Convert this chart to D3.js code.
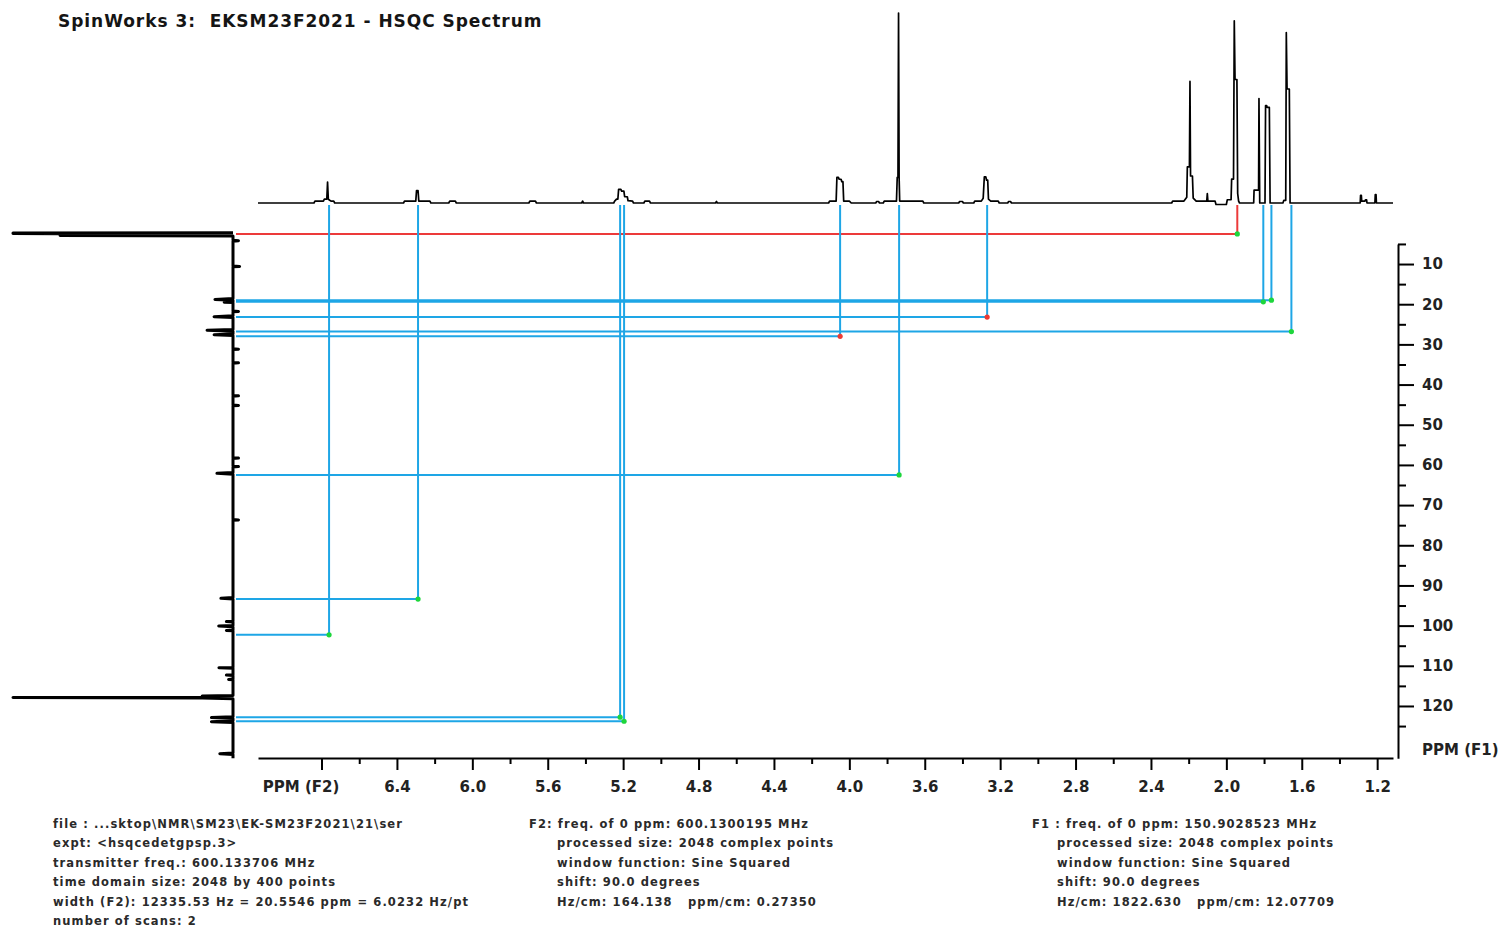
<!DOCTYPE html>
<html><head><meta charset="utf-8">
<script src="https://cdn.jsdelivr.net/npm/d3@7/dist/d3.min.js"></script>
<style>
html,body{margin:0;padding:0;background:#fff;}
svg{display:block;}
text{font-family:"DejaVu Sans",Verdana,sans-serif;white-space:pre;}
</style></head><body>
<svg id="chart" width="1501" height="931"></svg>
<script>
// ---------------- data ----------------
const titleText = "SpinWorks 3:  EKSM23F2021 - HSQC Spectrum";

const f2TickValues = [6.8, 6.4, 6.0, 5.6, 5.2, 4.8, 4.4, 4.0, 3.6, 3.2, 2.8, 2.4, 2.0, 1.6, 1.2];
const f2TickLabels = ["PPM (F2)", "6.4", "6.0", "5.6", "5.2", "4.8", "4.4", "4.0", "3.6", "3.2", "2.8", "2.4", "2.0", "1.6", "1.2"];
const f2MinorTicks = [6.6, 6.2, 5.8, 5.4, 5.0, 4.6, 4.2, 3.8, 3.4, 3.0, 2.6, 2.2, 1.8, 1.4];

const f1TickValues = [10, 20, 30, 40, 50, 60, 70, 80, 90, 100, 110, 120];
const f1MinorTicks = [5, 15, 25, 35, 45, 55, 65, 75, 85, 95, 105, 115, 125];
const f1AxisLabel = "PPM (F1)";

// 1H projection (F2 ppm, relative intensity)
const f2Trace = [
  [7.137,0],
  [6.84,0],[6.835,1],[6.79,1],[6.785,2],[6.772,2],[6.768,11],[6.764,2],[6.75,1],[6.735,1],[6.73,0],
  [6.365,0],[6.36,1],[6.30,1],[6.296,6.5],[6.288,6.5],[6.284,1],[6.225,1],[6.22,0],
  [6.125,0],[6.12,1],[6.09,1],[6.085,0],
  [5.70,0],[5.695,1],[5.665,1],[5.66,0],
  [5.42,0],[5.415,1],[5.41,0],
  [5.25,0],[5.245,1],[5.235,2],[5.228,2],[5.224,7.2],[5.212,7.2],[5.208,6.2],[5.196,6.2],[5.192,3.3],[5.178,3.3],[5.174,1.2],[5.15,1],[5.145,0],
  [5.09,0],[5.085,1],[5.06,1],[5.055,0],
  [4.71,0],[4.705,0.8],[4.70,0],
  [4.11,0],[4.105,1],[4.07,1],[4.066,13.5],[4.058,13.5],[4.054,12.5],[4.044,12.5],[4.04,11.2],[4.034,11.2],[4.03,1],[4.0,1],[3.99,0],
  [3.86,0],[3.855,0.8],[3.845,0.8],[3.84,0],
  [3.82,0],[3.815,1],[3.75,1],[3.746,13.5],[3.742,13.5],[3.739,100],[3.736,13.5],[3.733,1],[3.61,1],[3.605,0],
  [3.42,0],[3.415,0.8],[3.40,0.8],[3.395,0],
  [3.34,0],[3.335,1],[3.30,1],[3.29,2.5],[3.284,13.7],[3.276,13.7],[3.272,12],[3.266,12],[3.262,2],[3.25,1],[3.21,1],[3.205,0],
  [3.16,0],[3.155,0.8],[3.145,0.8],[3.14,0],
  [2.29,0],[2.285,1],[2.225,1],[2.21,3],[2.207,19],[2.196,19],[2.193,64],[2.190,14.2],[2.180,14.2],[2.176,2.6],[2.16,1],[2.12,1],
  [2.104,1],[2.101,5],[2.098,1],[2.06,1],[2.055,-0.8],[2.0,-0.8],
  [1.995,1.7],[1.975,1.7],[1.972,12.6],[1.962,12.6],[1.958,95.9],[1.954,65],[1.944,65],[1.940,5],[1.935,1],[1.93,0],
  [1.855,0],[1.853,6.8],[1.829,6.8],[1.827,55],[1.823,0],
  [1.795,0],[1.792,51.2],[1.786,51.2],[1.784,50.3],[1.772,50.3],[1.768,0],
  [1.70,0],[1.695,1.4],[1.685,1.4],[1.682,89.7],[1.678,60],[1.666,60],[1.662,0],
  [1.29,0],[1.288,4],[1.284,4],[1.282,1],[1.265,1],[1.262,1.7],[1.256,1.7],[1.254,0],
  [1.212,0],[1.210,4.4],[1.206,4.4],[1.204,0],
  [1.116,0]
];

// 13C projection (F1 ppm, relative intensity)
const f1Trace = [
  [2.2,0],[2.3,100],[2.4,100],[2.45,78.6],[2.9,78.6],[3.0,0],
  [4.1,0],[4.2,-2.5],[4.3,0],
  [10.5,0],[10.6,-3],[10.7,0],
  [18.6,0],[18.8,8.2],[19.0,0],[19.4,0],[19.5,4],[19.6,0],
  [21.7,0],[21.8,-2.5],[21.9,0],
  [22.9,0],[23.1,8.6],[23.3,0],
  [26.3,0],[26.5,11.8],[26.7,0],
  [27.4,0],[27.6,8.6],[27.8,0],
  [31.1,0],[31.2,-2.5],[31.3,0],
  [34.5,0],[34.6,-2.5],[34.7,0],
  [42.7,0],[42.8,-2.5],[42.9,0],
  [45.1,0],[45.2,-2.5],[45.3,0],
  [58.2,0],[58.3,-2.5],[58.4,0],
  [60.3,0],[60.4,-2.5],[60.5,0],
  [61.9,0],[62.1,7.3],[62.3,0],
  [73.6,0],[73.7,-2.5],[73.8,0],
  [93.0,0],[93.2,5.5],[93.4,0],
  [98.9,0],[99.0,3],[99.1,0],
  [100.0,0],[100.1,6.5],[100.3,0],
  [101.1,0],[101.2,3],[101.3,0],
  [110.4,0],[110.5,6.4],[110.6,0],
  [112.2,0],[112.3,3],[112.4,0],
  [113.3,0],[113.4,2],[113.5,0],
  [117.4,0],[117.5,14],[117.8,14],[117.9,100],[118.0,14],[118.2,0],
  [122.7,0],[122.9,9.8],[123.1,0],
  [123.7,0],[123.9,9.8],[124.1,0],
  [131.7,0],[131.9,6],[132.1,0],
  [133,0]
];

// HSQC cross-peaks
const crossF2 = [1.942, 1.804, 1.761, 1.655, 3.269, 4.049, 3.736, 6.288, 6.760, 5.216, 5.195];
const crossF1 = [2.5, 19.4, 19.0, 26.8, 23.2, 28.0, 62.5, 93.4, 102.3, 122.8, 123.8];
const crossGroup = ["solvent", "sample", "sample", "sample", "sample", "sample", "sample", "sample", "sample", "sample", "sample"];
const crossSign = ["+", "+", "+", "+", "-", "-", "+", "+", "+", "+", "+"];

const footerLeft = [
  "file : ...sktop\\NMR\\SM23\\EK-SM23F2021\\21\\ser",
  "expt: <hsqcedetgpsp.3>",
  "transmitter freq.: 600.133706 MHz",
  "time domain size: 2048 by 400 points",
  "width (F2): 12335.53 Hz = 20.5546 ppm = 6.0232 Hz/pt",
  "number of scans: 2"
];
const footerMid = [
  "F2: freq. of 0 ppm: 600.1300195 MHz",
  "processed size: 2048 complex points",
  "window function: Sine Squared",
  "shift: 90.0 degrees",
  "Hz/cm: 164.138   ppm/cm: 0.27350"
];
const footerRight = [
  "F1 : freq. of 0 ppm: 150.9028523 MHz",
  "processed size: 2048 complex points",
  "window function: Sine Squared",
  "shift: 90.0 degrees",
  "Hz/cm: 1822.630   ppm/cm: 12.07709"
];

// ---------------- drawing ----------------
const svg = d3.select("#chart");

const xF2 = d3.scaleLinear().domain([7.137, 1.116]).range([258, 1393]);
const yTop = d3.scaleLinear().domain([0, 100]).range([203, 13]);
const yF1 = d3.scaleLinear().domain([2.2, 133]).range([232.7, 758.2]);
const xLeft = d3.scaleLinear().domain([0, 100]).range([233, 13]);

const lineColor = d3.scaleOrdinal().domain(["solvent", "sample"]).range(["#ec3a3a", "#1ea6e6"]);
const dotColor = d3.scaleOrdinal().domain(["+", "-"]).range(["#1ed63c", "#ee3a32"]);

// title
svg.append("text")
  .attr("x", 58).attr("y", 27)
  .attr("font-size", 17).attr("font-weight", "bold")
  .attr("letter-spacing", 0.95)
  .attr("fill", "#151515")
  .attr("xml:space", "preserve")
  .text(titleText);

// cross-peak guide lines
const cross = crossF2.map((d, i) => ({f2: d, f1: crossF1[i], g: crossGroup[i], s: crossSign[i]}));
const gx = svg.append("g");
gx.selectAll("line.h").data(cross).join("line")
  .attr("x1", xLeft(0) + 3).attr("x2", d => xF2(d.f2))
  .attr("y1", d => yF1(d.f1)).attr("y2", d => yF1(d.f1))
  .attr("stroke", d => lineColor(d.g)).attr("stroke-width", 2);
gx.selectAll("line.v").data(cross).join("line")
  .attr("x1", d => xF2(d.f2)).attr("x2", d => xF2(d.f2))
  .attr("y1", yTop(0) + 2).attr("y2", d => yF1(d.f1))
  .attr("stroke", d => lineColor(d.g)).attr("stroke-width", 2);
gx.selectAll("circle").data(cross).join("circle")
  .attr("cx", d => xF2(d.f2)).attr("cy", d => yF1(d.f1)).attr("r", 2.6)
  .attr("fill", d => dotColor(d.s));

// top 1H trace
svg.append("path").datum(f2Trace)
  .attr("d", d3.line().x(d => xF2(d[0])).y(d => yTop(d[1])))
  .attr("fill", "none").attr("stroke", "#000").attr("stroke-width", 1.7)
  .attr("stroke-linejoin", "round");

// left 13C trace
svg.append("path").datum(f1Trace)
  .attr("d", d3.line().x(d => xLeft(d[1])).y(d => yF1(d[0])))
  .attr("fill", "none").attr("stroke", "#000").attr("stroke-width", 3)
  .attr("stroke-linejoin", "round");

// bottom F2 axis
function styleAxis(g) {
  g.selectAll("path.domain").attr("stroke", "#000").attr("stroke-width", 2);
  g.selectAll(".tick line").attr("stroke", "#000").attr("stroke-width", 2);
  g.selectAll(".tick text").attr("fill", "#222").attr("font-size", 15)
    .attr("font-weight", "bold").attr("font-family", "DejaVu Sans, Verdana, sans-serif");
}
const axisBottomY = 758;
const gxMinor = svg.append("g").attr("transform", `translate(0,${axisBottomY})`)
  .call(d3.axisBottom(xF2).tickValues(f2MinorTicks).tickSize(6).tickFormat(""));
gxMinor.select("path.domain").remove();
gxMinor.selectAll(".tick line").attr("stroke", "#000").attr("stroke-width", 2);
const gxMajor = svg.append("g").attr("transform", `translate(0,${axisBottomY})`)
  .call(d3.axisBottom(xF2).tickValues(f2TickValues).tickSize(12).tickSizeOuter(0).tickPadding(11)
    .tickFormat((d, i) => f2TickLabels[i]));
styleAxis(gxMajor);
gxMajor.selectAll(".tick text").filter((d, i) => i === 0).attr("dx", -21);

// right F1 axis
const yAxisScale = d3.scaleLinear().domain([5, 133]).range([yF1(5), yF1(133)]);
const axisRightX = 1398;
const gyMinor = svg.append("g").attr("transform", `translate(${axisRightX},0)`)
  .call(d3.axisRight(yAxisScale).tickValues(f1MinorTicks).tickSize(8).tickFormat(""));
gyMinor.select("path.domain").remove();
gyMinor.selectAll(".tick line").attr("stroke", "#000").attr("stroke-width", 2);
const gyMajor = svg.append("g").attr("transform", `translate(${axisRightX},0)`)
  .call(d3.axisRight(yAxisScale).tickValues(f1TickValues).tickSize(16).tickSizeOuter(0).tickPadding(8)
    .tickFormat(d3.format("d")));
styleAxis(gyMajor);
svg.append("text")
  .attr("x", axisRightX + 24).attr("y", yF1(131) + 5)
  .attr("font-size", 15).attr("font-weight", "bold").attr("fill", "#222")
  .text(f1AxisLabel);

// footer
function footer(lines, xFirst, xRest) {
  svg.append("g").selectAll("text").data(lines).join("text")
    .attr("x", (d, i) => i === 0 ? xFirst : xRest)
    .attr("y", (d, i) => 827.5 + i * 19.5)
    .attr("font-size", 11.5).attr("font-weight", "bold")
    .attr("letter-spacing", 1.1).attr("fill", "#2a2a2a")
    .attr("xml:space", "preserve")
    .text(d => d);
}
footer(footerLeft, 53, 53);
footer(footerMid, 529, 557);
footer(footerRight, 1032, 1057);
</script>
</body></html>
